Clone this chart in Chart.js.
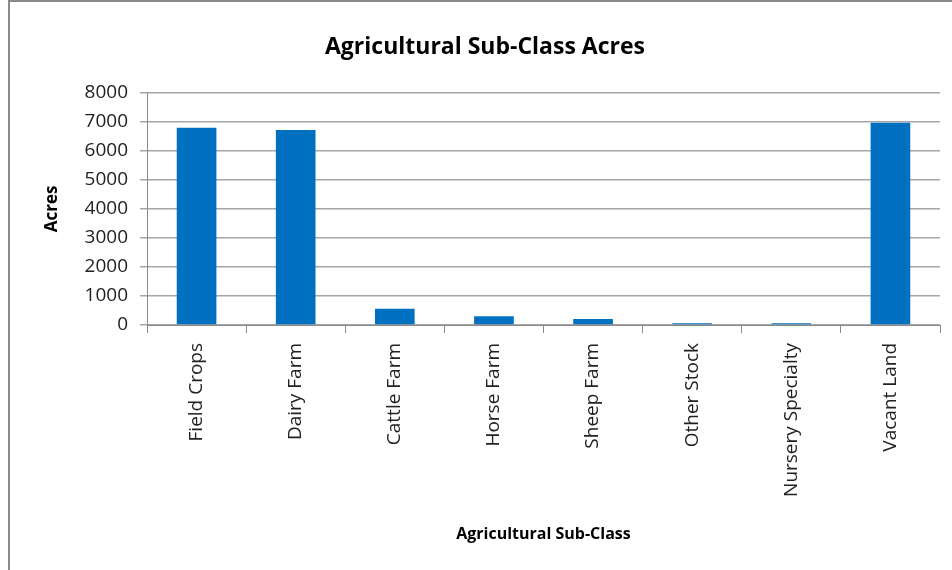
<!DOCTYPE html>
<html>
<head>
<meta charset="utf-8">
<script src="https://cdn.jsdelivr.net/npm/chart.js@4/dist/chart.umd.min.js"></script>
<style>
  html, body { margin: 0; padding: 0; background: #fff; }
  canvas { display: block; }
</style>
</head>
<body>
<canvas id="acresChart" width="952" height="570"></canvas>
<script>
// Acreage by agricultural sub-class
const subClasses = ['Field Crops', 'Dairy Farm', 'Cattle Farm', 'Horse Farm', 'Sheep Farm', 'Other Stock', 'Nursery Specialty', 'Vacant Land'];
const acres = [6790, 6710, 560, 300, 205, 60, 60, 6960];

const FONT = "'Open Sans', 'Liberation Sans', sans-serif";

// thin frame around the whole chart (left and top edges)
const framePlugin = {
    id: 'frame',
    beforeDraw(chart) {
        const ctx = chart.ctx;
        ctx.save();
        ctx.fillStyle = '#ffffff';
        ctx.fillRect(0, 0, chart.width, chart.height);
        ctx.strokeStyle = '#8a8a8a';
        ctx.lineWidth = 2;
        ctx.beginPath();
        ctx.moveTo(9, chart.height + 2);
        ctx.lineTo(9, 1);
        ctx.lineTo(chart.width + 2, 1);
        ctx.stroke();
        ctx.restore();
    }
};

new Chart(document.getElementById('acresChart').getContext('2d'), {
    type: 'bar',
    data: {
        labels: subClasses,
        datasets: [{
            label: 'Acres',
            data: acres,
            backgroundColor: '#0070c0',
            borderWidth: 0,
            barPercentage: 0.4,
            categoryPercentage: 1.0
        }]
    },
    options: {
        responsive: false,
        devicePixelRatio: 1,
        animation: false,
        layout: { padding: { left: 30, right: 12, top: 0, bottom: 0 } },
        plugins: {
            legend: { display: false },
            tooltip: { enabled: false },
            title: {
                display: true,
                text: 'Agricultural Sub-Class Acres',
                color: '#000',
                font: { family: FONT, size: 23, weight: 'bold' },
                padding: { top: 34, bottom: 31 }
            }
        },
        scales: {
            x: {
                offset: true,
                grid: {
                    display: true,
                    offset: true,
                    drawOnChartArea: false,
                    tickLength: 8,
                    color: '#8a8a8a'
                },
                border: { display: true, color: '#8a8a8a' },
                ticks: {
                    color: '#222',
                    font: { family: FONT, size: 19 },
                    minRotation: 90,
                    maxRotation: 90,
                    padding: 10,
                    autoSkip: false
                },
                title: {
                    display: true,
                    text: 'Agricultural Sub-Class',
                    color: '#000',
                    font: { family: FONT, size: 16, weight: 'bold' },
                    padding: { top: 0, bottom: 26 }
                },
                afterFit(scale) { scale.height = 245; }
            },
            y: {
                min: 0,
                max: 8000,
                ticks: {
                    stepSize: 1000,
                    color: '#222',
                    font: { family: FONT, size: 19 },
                    padding: 12,
                    callback: value => String(value)
                },
                grid: {
                    color: '#a6a6a6',
                    lineWidth: 1.5,
                    tickLength: 7
                },
                border: { display: true, color: '#8a8a8a' },
                title: {
                    display: true,
                    text: 'Acres',
                    color: '#000',
                    font: { family: FONT, size: 17, weight: 'bold' },
                    padding: { top: 12, bottom: 0 }
                },
                afterFit(scale) { scale.width = 117; }
            }
        }
    },
    plugins: [framePlugin]
});
</script>
</body>
</html>
